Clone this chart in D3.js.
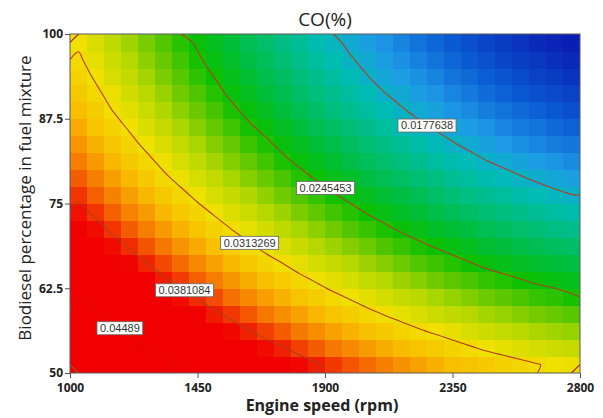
<!DOCTYPE html>
<html><head><meta charset="utf-8">
<script src="https://cdn.jsdelivr.net/npm/d3@7"></script>
<style>body{margin:0;background:#fff}</style>
</head><body>
<svg id="chart" width="603" height="418"></svg>
<script>
const title = "CO(%)";
const xTitle = "Engine speed (rpm)";
const yTitle = "Biodiesel percentage in fuel mixture";
const xTicks = [1000, 1450, 1900, 2350, 2800];
const yTicks = [50, 62.5, 75, 87.5, 100];
const yTickLabels = ["50", "62.5", "75", "87.5", "100"];

// cell centres
const speed = [1030,1090,1150,1210,1270,1330,1390,1450,1510,1570,1630,1690,1750,1810,1870,1930,1990,2050,2110,2170,2230,2290,2350,2410,2470,2530,2590,2650,2710,2770];
const biodiesel = [51.25,53.75,56.25,58.75,61.25,63.75,66.25,68.75,71.25,73.75,76.25,78.75,81.25,83.75,86.25,88.75,91.25,93.75,96.25,98.75];

// CO (%) : one row per biodiesel value (bottom -> top), one column per speed value
const co = [
[0.0506,0.0495,0.0485,0.0475,0.0465,0.0456,0.0447,0.0438,0.0429,0.0421,0.0413,0.0405,0.0397,0.0390,0.0383,0.0376,0.0369,0.0363,0.0357,0.0351,0.0345,0.0340,0.0335,0.0330,0.0326,0.0322,0.0318,0.0314,0.0310,0.0307],
[0.0490,0.0480,0.0470,0.0460,0.0450,0.0441,0.0431,0.0422,0.0414,0.0405,0.0397,0.0389,0.0382,0.0374,0.0367,0.0360,0.0354,0.0347,0.0341,0.0336,0.0330,0.0325,0.0320,0.0315,0.0310,0.0306,0.0302,0.0298,0.0295,0.0292],
[0.0475,0.0465,0.0455,0.0445,0.0435,0.0426,0.0416,0.0408,0.0399,0.0390,0.0382,0.0374,0.0367,0.0359,0.0352,0.0345,0.0339,0.0333,0.0326,0.0321,0.0315,0.0310,0.0305,0.0300,0.0295,0.0291,0.0287,0.0283,0.0280,0.0277],
[0.0461,0.0451,0.0440,0.0430,0.0421,0.0411,0.0402,0.0393,0.0384,0.0376,0.0368,0.0360,0.0352,0.0345,0.0338,0.0331,0.0324,0.0318,0.0312,0.0306,0.0301,0.0295,0.0290,0.0286,0.0281,0.0277,0.0273,0.0269,0.0266,0.0262],
[0.0447,0.0437,0.0427,0.0417,0.0407,0.0397,0.0388,0.0379,0.0371,0.0362,0.0354,0.0346,0.0339,0.0331,0.0324,0.0317,0.0311,0.0304,0.0298,0.0292,0.0287,0.0282,0.0277,0.0272,0.0267,0.0263,0.0259,0.0255,0.0252,0.0248],
[0.0434,0.0424,0.0413,0.0403,0.0394,0.0384,0.0375,0.0366,0.0358,0.0349,0.0341,0.0333,0.0325,0.0318,0.0311,0.0304,0.0298,0.0291,0.0285,0.0279,0.0274,0.0268,0.0263,0.0259,0.0254,0.0250,0.0246,0.0242,0.0239,0.0235],
[0.0421,0.0411,0.0401,0.0391,0.0381,0.0372,0.0363,0.0354,0.0345,0.0337,0.0328,0.0320,0.0313,0.0305,0.0298,0.0292,0.0285,0.0279,0.0273,0.0267,0.0261,0.0256,0.0251,0.0246,0.0241,0.0237,0.0233,0.0229,0.0226,0.0223],
[0.0409,0.0399,0.0389,0.0379,0.0369,0.0360,0.0350,0.0342,0.0333,0.0324,0.0316,0.0308,0.0301,0.0293,0.0286,0.0279,0.0273,0.0267,0.0260,0.0255,0.0249,0.0244,0.0239,0.0234,0.0229,0.0225,0.0221,0.0217,0.0214,0.0211],
[0.0398,0.0388,0.0377,0.0367,0.0358,0.0348,0.0339,0.0330,0.0321,0.0313,0.0305,0.0297,0.0289,0.0282,0.0275,0.0268,0.0261,0.0255,0.0249,0.0243,0.0238,0.0232,0.0227,0.0223,0.0218,0.0214,0.0210,0.0206,0.0202,0.0199],
[0.0387,0.0377,0.0366,0.0356,0.0347,0.0337,0.0328,0.0319,0.0311,0.0302,0.0294,0.0286,0.0279,0.0271,0.0264,0.0257,0.0251,0.0244,0.0238,0.0232,0.0227,0.0221,0.0216,0.0212,0.0207,0.0203,0.0199,0.0195,0.0192,0.0188],
[0.0377,0.0366,0.0356,0.0346,0.0337,0.0327,0.0318,0.0309,0.0300,0.0292,0.0284,0.0276,0.0268,0.0261,0.0254,0.0247,0.0240,0.0234,0.0228,0.0222,0.0217,0.0211,0.0206,0.0201,0.0197,0.0193,0.0189,0.0185,0.0181,0.0178],
[0.0367,0.0357,0.0346,0.0337,0.0327,0.0317,0.0308,0.0299,0.0291,0.0282,0.0274,0.0266,0.0259,0.0251,0.0244,0.0237,0.0231,0.0224,0.0218,0.0212,0.0207,0.0202,0.0196,0.0192,0.0187,0.0183,0.0179,0.0175,0.0172,0.0168],
[0.0358,0.0348,0.0337,0.0327,0.0318,0.0308,0.0299,0.0290,0.0281,0.0273,0.0265,0.0257,0.0249,0.0242,0.0235,0.0228,0.0221,0.0215,0.0209,0.0203,0.0198,0.0192,0.0187,0.0183,0.0178,0.0174,0.0170,0.0166,0.0163,0.0159],
[0.0349,0.0339,0.0329,0.0319,0.0309,0.0300,0.0291,0.0282,0.0273,0.0265,0.0256,0.0249,0.0241,0.0234,0.0226,0.0220,0.0213,0.0207,0.0201,0.0195,0.0189,0.0184,0.0179,0.0174,0.0169,0.0165,0.0161,0.0157,0.0154,0.0151],
[0.0342,0.0331,0.0321,0.0311,0.0301,0.0292,0.0283,0.0274,0.0265,0.0257,0.0248,0.0241,0.0233,0.0226,0.0218,0.0212,0.0205,0.0199,0.0193,0.0187,0.0181,0.0176,0.0171,0.0166,0.0162,0.0157,0.0153,0.0150,0.0146,0.0143],
[0.0334,0.0324,0.0313,0.0304,0.0294,0.0284,0.0275,0.0266,0.0258,0.0249,0.0241,0.0233,0.0226,0.0218,0.0211,0.0204,0.0198,0.0191,0.0185,0.0179,0.0174,0.0169,0.0163,0.0159,0.0154,0.0150,0.0146,0.0142,0.0139,0.0135],
[0.0327,0.0317,0.0307,0.0297,0.0287,0.0278,0.0268,0.0260,0.0251,0.0242,0.0234,0.0226,0.0219,0.0211,0.0204,0.0197,0.0191,0.0185,0.0178,0.0173,0.0167,0.0162,0.0157,0.0152,0.0147,0.0143,0.0139,0.0135,0.0132,0.0129],
[0.0321,0.0311,0.0300,0.0291,0.0281,0.0271,0.0262,0.0253,0.0245,0.0236,0.0228,0.0220,0.0213,0.0205,0.0198,0.0191,0.0185,0.0178,0.0172,0.0166,0.0161,0.0156,0.0150,0.0146,0.0141,0.0137,0.0133,0.0129,0.0126,0.0122],
[0.0316,0.0305,0.0295,0.0285,0.0275,0.0266,0.0257,0.0248,0.0239,0.0231,0.0222,0.0215,0.0207,0.0200,0.0192,0.0186,0.0179,0.0173,0.0167,0.0161,0.0155,0.0150,0.0145,0.0140,0.0136,0.0131,0.0127,0.0124,0.0120,0.0117],
[0.0310,0.0300,0.0290,0.0280,0.0270,0.0261,0.0252,0.0243,0.0234,0.0226,0.0217,0.0210,0.0202,0.0195,0.0187,0.0181,0.0174,0.0168,0.0162,0.0156,0.0150,0.0145,0.0140,0.0135,0.0130,0.0126,0.0122,0.0118,0.0115,0.0112]
];

const contourLevels = [0.04489, 0.0381084, 0.0313269, 0.0245453, 0.0177638];
const labelSpeed = [1176, 1404, 1634, 1902, 2260];
const labelBiodiesel = [56.6, 62.2, 69.2, 77.3, 86.5];

// ---------- drawing ----------
const svg = d3.select("#chart");
const L = 70, R = 580, T = 34, B = 373;
const x = d3.scaleLinear().domain([1000, 2800]).range([L, R]);
const y = d3.scaleLinear().domain([50, 100]).range([B, T]);

const color = d3.scaleLinear()
  .domain([0.0112, 0.0140, 0.0165, 0.0185, 0.0205, 0.0225, 0.0245, 0.0265, 0.0285, 0.0310, 0.0335, 0.0360, 0.0380, 0.0392])
  .range(["#0a1eb4","#0a5ad2","#1e9be6","#00bcb4","#00be78","#00be3c","#0ac000","#64c800","#b4d800","#f0e100","#f8be00","#f57800","#f02800","#f00000"])
  .clamp(true);

const defs = svg.append("defs");
defs.append("clipPath").attr("id", "plotclip").append("rect")
  .attr("x", L).attr("y", T).attr("width", R - L).attr("height", B - T);

const dS = speed[1] - speed[0], dB = biodiesel[1] - biodiesel[0];
const cells = [];
co.forEach((row, j) => row.forEach((v, i) => cells.push({ s: speed[i], b: biodiesel[j], v })));

const plot = svg.append("g").attr("clip-path", "url(#plotclip)");
plot.append("g").selectAll("rect").data(cells).join("rect")
  .attr("x", d => x(d.s - dS / 2))
  .attr("y", d => y(d.b + dB / 2))
  .attr("width", d => x(d.s + dS / 2) - x(d.s - dS / 2) + 0.6)
  .attr("height", d => y(d.b - dB / 2) - y(d.b + dB / 2) + 0.6)
  .attr("fill", d => color(d.v))
  .attr("shape-rendering", "crispEdges");

// contours
const nx = speed.length, ny = biodiesel.length;
const flat = [];
for (let j = ny - 1; j >= 0; j--) for (let i = 0; i < nx; i++) flat.push(co[j][i]);
const contours = d3.contours().size([nx, ny]).thresholds(contourLevels)(flat);
const s0 = speed[0] - dS / 2, bTop = biodiesel[ny - 1] + dB / 2;
const toPx = p => [x(s0 + p[0] * dS), y(bTop - p[1] * dB)];
const onEdge = (a, b) => (a[0] === 0 && b[0] === 0) || (a[0] === nx && b[0] === nx) ||
                         (a[1] === 0 && b[1] === 0) || (a[1] === ny && b[1] === ny);
function ringRuns(ring) {
  const pts = ring.slice(0, -1), n = pts.length;
  let k0 = -1;
  for (let k = 0; k < n; k++) if (onEdge(pts[k], pts[(k + 1) % n])) { k0 = k; break; }
  if (k0 < 0) return [pts.concat([pts[0]])];
  const runs = []; let run = [];
  for (let m = 1; m <= n; m++) {
    const a = pts[(k0 + m) % n], b = pts[(k0 + m + 1) % n];
    if (!run.length) run.push(a);
    if (onEdge(a, b)) { if (run.length > 1) runs.push(run); run = []; }
    else run.push(b);
  }
  if (run.length > 1) runs.push(run);
  return runs;
}
const line = d3.line().curve(d3.curveCatmullRom.alpha(0.5));
const cg = plot.append("g");
contours.forEach(c => {
  const faint = c.value === d3.max(contourLevels);
  c.coordinates.forEach(poly => poly.forEach(ring => {
    ringRuns(ring).forEach(r => {
      cg.append("path").attr("d", line(r.map(toPx)))
        .attr("fill", "none").attr("stroke", "#b0401e").attr("stroke-width", 1.1)
        .attr("stroke-opacity", faint ? 0.2 : 1);
    });
  }));
});

// frame
svg.append("rect").attr("x", L).attr("y", T).attr("width", R - L).attr("height", B - T)
  .attr("fill", "none").attr("stroke", "#5a5a5a").attr("stroke-width", 1);

// contour labels
contourLevels.forEach((lv, k) => {
  const g = svg.append("g").attr("transform", `translate(${x(labelSpeed[k])},${y(labelBiodiesel[k])})`);
  const r = g.append("rect");
  const t = g.append("text").text(String(lv))
    .attr("text-anchor", "middle").attr("dy", "0.35em")
    .attr("font-family", "Liberation Sans, Arial, sans-serif").attr("font-size", 11)
    .attr("fill", "#333");
  const w = t.node().getComputedTextLength() + 6;
  r.attr("x", -w / 2).attr("y", -6.5).attr("width", w).attr("height", 13)
    .attr("fill", "#fff").attr("stroke", "#666").attr("stroke-width", 0.8);
});

// axes
const xAxis = d3.axisBottom(x).tickValues(xTicks).tickSize(5).tickPadding(5).tickFormat(d3.format("d"));
svg.append("g").attr("transform", `translate(0,${B})`).call(xAxis)
  .call(g => g.select(".domain").remove())
  .call(g => g.selectAll("line").attr("stroke", "#555"))
  .call(g => g.selectAll("text").attr("font-family", "Open Sans, sans-serif").attr("font-weight", 700)
    .attr("font-size", 12).attr("fill", "#222"));

const yAxis = d3.axisLeft(y).tickValues(yTicks).tickSize(5).tickPadding(2).tickFormat((d, i) => yTickLabels[i]);
svg.append("g").attr("transform", `translate(${L},0)`).call(yAxis)
  .call(g => g.select(".domain").remove())
  .call(g => g.selectAll("line").attr("stroke", "#555"))
  .call(g => g.selectAll("text").attr("font-family", "Open Sans, sans-serif").attr("font-weight", 700)
    .attr("font-size", 12).attr("fill", "#222"));

// titles
svg.append("text").text(title).attr("x", 325).attr("y", 26).attr("text-anchor", "middle")
  .attr("font-family", "Open Sans, sans-serif").attr("font-size", 19).attr("fill", "#222");
svg.append("text").text(xTitle).attr("x", 322).attr("y", 411).attr("text-anchor", "middle")
  .attr("font-family", "Open Sans, sans-serif").attr("font-weight", 700).attr("font-size", 16).attr("fill", "#222");
svg.append("text").text(yTitle).attr("transform", "translate(31,198) rotate(-90)").attr("text-anchor", "middle")
  .attr("font-family", "Open Sans, sans-serif").attr("font-size", 17).attr("fill", "#222");
</script>
</body></html>
